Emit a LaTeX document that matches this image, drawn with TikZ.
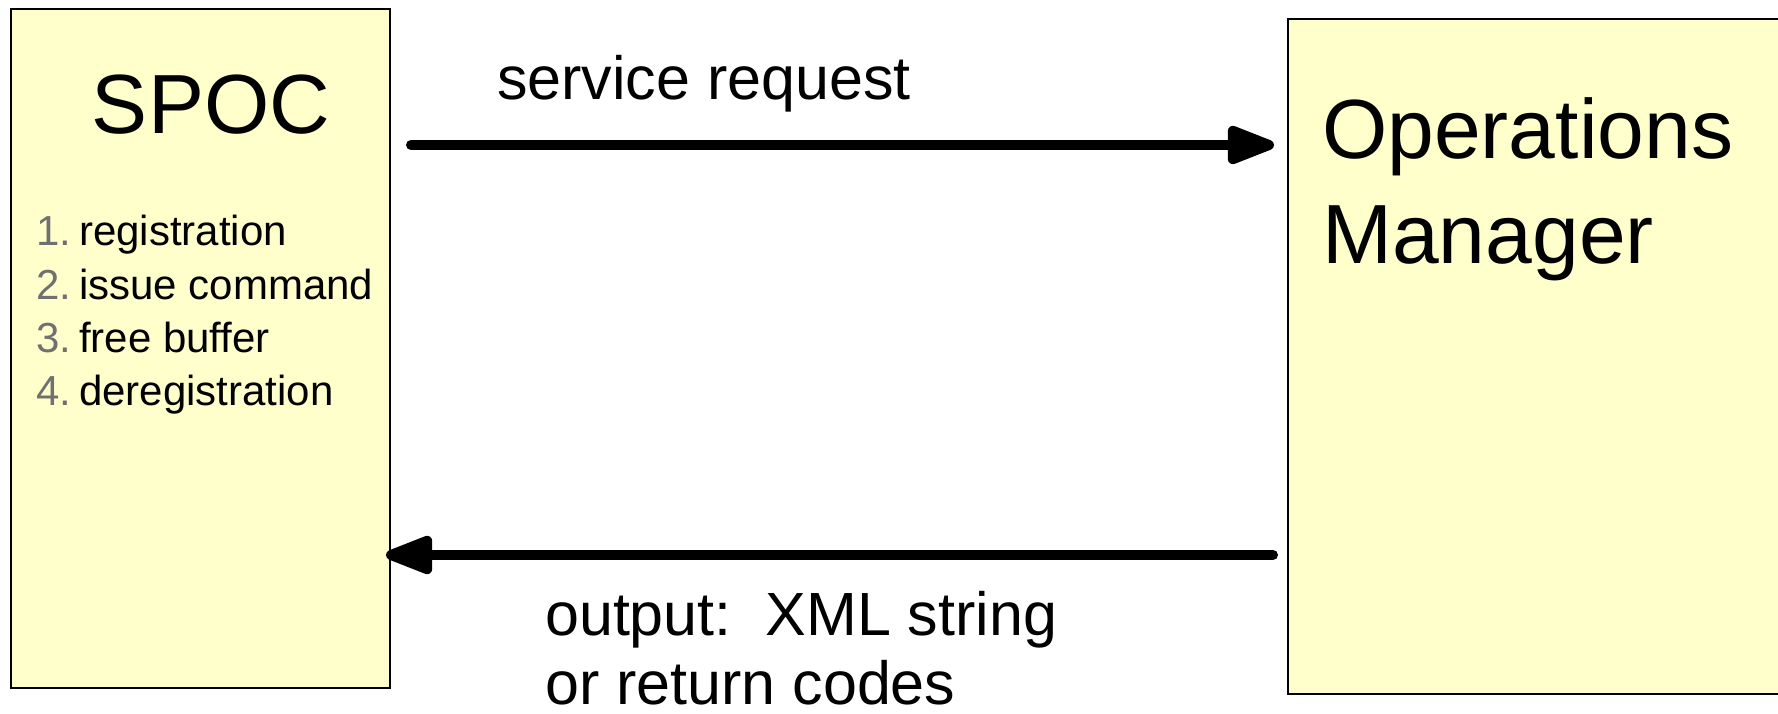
\documentclass[tikz,border=0pt]{standalone}
\usepackage{fontspec}
\setmainfont{Liberation Sans}
\usetikzlibrary{arrows.meta}
\definecolor{boxfill}{HTML}{FFFFCC}
\definecolor{numgrey}{HTML}{707070}
\tikzset{
  block/.style={draw=black, line width=2.5pt, fill=boxfill, inner sep=0pt, outer sep=0pt},
  flow/.style={line width=10pt, line cap=round, -{Triangle[length=56pt,width=40pt,round]}},
  big/.style={inner sep=0pt, font=\fontsize{84}{98}\selectfont},
  mid/.style={inner sep=0pt, font=\fontsize{61}{70}\selectfont},
  small/.style={inner sep=0pt, font=\fontsize{42}{53}\selectfont},
  num/.style={small, text=numgrey}
}
\begin{document}
\begin{tikzpicture}[x=1pt, y=-1pt]
\useasboundingbox (0,0) rectangle (1778,714);
\fill[white] (0,0) rectangle (1778,714);
% boxes
\node[block, minimum width=379pt, minimum height=679pt] (spoc) at (200.5,348.5) {};
\node[block, minimum width=512pt, minimum height=675pt] (om) at (1544,356.5) {};
% box texts
\node[big, anchor=base] (spoctitle) at (211,134) {SPOC};
\node[num, anchor=base west] (n1) at (36,246) {1.};
\node[small, anchor=base west] (t1) at (79,246) {registration};
\node[num, anchor=base west] (n2) at (36,299) {2.};
\node[small, anchor=base west] (t2) at (79,299) {issue command};
\node[num, anchor=base west] (n3) at (36,352) {3.};
\node[small, anchor=base west] (t3) at (79,352) {free buffer};
\node[num, anchor=base west] (n4) at (36,405) {4.};
\node[small, anchor=base west] (t4) at (79,405) {deregistration};
\node[big, anchor=base west] (omt1) at (1322,159) {Operations};
\node[big, anchor=base west] (omt2) at (1322,264) {Manager};
% connectors
\coordinate (ytop) at (0,145);
\coordinate (ybot) at (0,555);
\draw[flow] ([xshift=21pt]spoc.east |- ytop) -- ([xshift=-14pt]om.west |- ytop);
\draw[flow] ([xshift=-15pt]om.west |- ybot) -- ([xshift=-4pt]spoc.east |- ybot);
% labels
\node[mid, anchor=base west] (req) at (497,100) {service request};
\node[mid, anchor=base west] (out1) at (545,635) {output:\ \ XML string};
\node[mid, anchor=base west] (out2) at (545,704) {or return codes};
\end{tikzpicture}
\end{document}
